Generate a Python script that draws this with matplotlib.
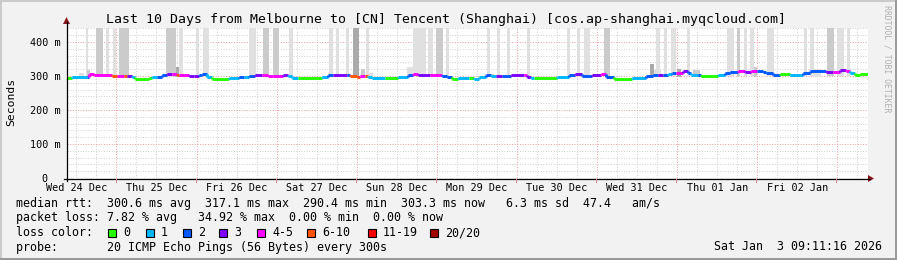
import matplotlib
matplotlib.use("Agg")
import matplotlib.pyplot as plt
import matplotlib.dates as mdates
from matplotlib.patches import Rectangle, Polygon
from matplotlib.lines import Line2D
from matplotlib.collections import LineCollection
from datetime import datetime, timedelta

# ---------------- data ----------------
title = "Last 10 Days from Melbourne to [CN] Tencent (Shanghai) [cos.ap-shanghai.myqcloud.com]"
end_time = datetime(2026, 1, 3, 9, 11, 16)
start_time = end_time - timedelta(days=10)

# median RTT step segments: start (hours since start), value (ms), lost packets of 20
seg_hours = [0.0, 1.5, 6.0, 6.6, 8.1, 13.5, 15.0, 17.1, 18.0, 19.5,
             20.4, 24.6, 25.5, 27.0, 28.5, 30.0, 31.5, 33.0, 33.6, 36.6,
             38.1, 39.6, 40.5, 42.0, 43.5, 48.6, 51.6, 53.1, 54.6, 56.4,
             58.5, 60.3, 61.8, 64.8, 66.3, 67.5, 69.3, 76.5, 78.3, 79.8,
             84.0, 84.9, 87.0, 87.9, 89.4, 90.3, 91.5, 95.4, 99.3, 102.3,
             103.8, 105.3, 108.9, 112.5, 114.0, 115.5, 117.3, 120.3, 121.8, 123.3,
             125.4, 126.9, 128.4, 130.2, 132.9, 136.8, 137.7, 138.9, 139.8, 146.7,
             150.3, 152.1, 154.2, 157.2, 159.9, 161.4, 163.8, 169.2, 173.4, 175.5,
             177.0, 178.5, 180.0, 181.2, 182.4, 184.5, 186.0, 186.9, 189.0, 189.9,
             195.0, 197.1, 198.6, 201.0, 203.1, 204.9, 206.7, 208.5, 209.4, 211.5,
             213.6, 216.6, 220.5, 222.6, 227.4, 229.5, 231.6, 233.4, 234.6, 236.1,
             237.6]
seg_median_ms = [293, 297, 298, 306, 304, 300, 301, 300, 300, 296,
                 292, 294, 296, 298, 303, 307, 305, 302, 304, 300,
                 299, 302, 305, 298, 292, 295, 298, 296, 300, 303,
                 304, 301, 300, 302, 299, 293, 293, 297, 304, 303,
                 302, 300, 296, 299, 299, 298, 293, 293, 297, 303,
                 306, 304, 304, 301, 296, 292, 293, 293, 292, 297,
                 303, 300, 299, 301, 303, 304, 297, 293, 293, 297,
                 304, 305, 301, 304, 305, 298, 292, 295, 301, 303,
                 302, 303, 306, 310, 310, 315, 308, 304, 302, 301,
                 302, 308, 313, 315, 313, 315, 315, 312, 308, 304,
                 305, 304, 309, 315, 313, 312, 318, 316, 308, 302,
                 305]
seg_loss = [0, 1, 2, 4, 4, 7, 4, 7, 3, 1,
            0, 0, 1, 2, 2, 3, 4, 7, 4, 3,
            3, 2, 2, 1, 0, 1, 2, 1, 2, 3,
            4, 4, 4, 3, 1, 1, 0, 1, 2, 3,
            2, 7, 7, 4, 7, 1, 1, 0, 1, 2,
            4, 3, 4, 2, 2, 0, 1, 0, 1, 1,
            2, 1, 3, 2, 3, 4, 3, 1, 0, 1,
            2, 3, 2, 3, 4, 2, 0, 1, 2, 2,
            3, 2, 1, 2, 4, 3, 2, 1, 2, 0,
            1, 2, 2, 4, 3, 4, 2, 2, 2, 2,
            0, 1, 2, 2, 3, 4, 3, 4, 1, 0,
            0]

# tall smoke bars (outlier pings): start/end hours, shade level
bar_start_h = [5.7, 8.7, 11.7, 13.8, 15.6, 29.7, 33.6, 38.7, 40.8, 54.6,
               58.8, 61.8, 66.6, 78.6, 80.7, 83.7, 85.8, 89.7, 103.8, 108.3,
               110.7, 113.7, 125.7, 128.7, 131.7, 137.7, 149.7, 152.7, 154.8, 160.8,
               176.4, 178.8, 180.9, 185.7, 197.7, 200.7, 202.8, 204.6, 209.7, 220.8,
               222.6, 227.7, 230.7, 233.7]
bar_end_h = [6.3, 10.8, 12.6, 14.7, 18.6, 32.7, 34.8, 39.6, 42.6, 56.7,
             60.6, 63.6, 67.8, 79.8, 81.6, 84.6, 87.6, 90.6, 107.7, 109.8,
             112.8, 114.6, 126.6, 129.6, 132.6, 138.6, 150.6, 153.6, 156.6, 162.6,
             177.6, 179.7, 182.4, 186.6, 199.8, 201.6, 203.7, 205.8, 211.8, 221.7,
             223.8, 229.8, 232.8, 234.6]
bar_shade = [1, 2, 1, 1, 2, 2, 1, 1, 1, 1,
             2, 2, 1, 1, 1, 1, 3, 1, 1, 1,
             2, 1, 1, 1, 1, 1, 1, 1, 1, 2,
             1, 1, 1, 1, 1, 2, 1, 1, 1, 1,
             1, 2, 1, 1]

# small smoke humps near the median
peak_start_h = [3.6, 6.0, 31.8, 32.7, 38.7, 88.2, 90.6, 102.0, 124.8, 174.6,
                175.8, 182.7, 187.5, 205.8, 223.8]
peak_end_h = [5.1, 6.9, 32.7, 33.6, 39.6, 89.4, 91.8, 103.8, 127.8, 175.8,
              177.9, 183.9, 189.6, 206.7, 225.9]
peak_top_ms = [308, 318, 318, 327, 310, 322, 308, 326, 307, 335,
               318, 322, 319, 327, 320]
peak_shade = [1, 2, 2, 3, 1, 2, 1, 1, 1, 3,
              1, 3, 2, 2, 1]

y_ticks = [0, 100, 200, 300, 400]
y_tick_labels = ["0  ", "100 m", "200 m", "300 m", "400 m"]

stats_rtt = "median rtt:  300.6 ms avg  317.1 ms max  290.4 ms min  303.3 ms now   6.3 ms sd  47.4   am/s"
stats_loss = "packet loss: 7.82 % avg   34.92 % max  0.00 % min  0.00 % now"
loss_labels = ["0", "1", "2", "3", "4-5", "6-10", "11-19", "20/20"]
loss_colors = ["#26ff00", "#00b8ff", "#0059ff", "#7e00ff", "#ff00ff", "#ff5500", "#ff0000", "#a10000"]
probe_text = "probe:       20 ICMP Echo Pings (56 Bytes) every 300s"
stamp_text = "Sat Jan  3 09:11:16 2026"

# ---------------- figure ----------------
W, H = 897, 260
MONO = "DejaVu Sans Mono"


def fx(x):
    return x / W


def fy(y):
    return 1 - y / H


def loss_color(n):
    if n <= 3:
        return loss_colors[n]
    if n <= 5:
        return loss_colors[4]
    if n <= 10:
        return loss_colors[5]
    if n <= 19:
        return loss_colors[6]
    return loss_colors[7]


shade_colors = {1: "#e0e0e0", 2: "#cbcbcb", 3: "#aaaaaa"}

fig = plt.figure(figsize=(W / 100, H / 100), dpi=100)
fig.patch.set_facecolor("#f2f2f2")

# 3D-ish frame
fig.add_artist(Rectangle((0, fy(2)), 1, 2 / H, transform=fig.transFigure, color="#cbcbcb", lw=0))
fig.add_artist(Rectangle((0, 0), 2 / W, 1, transform=fig.transFigure, color="#cbcbcb", lw=0))
fig.add_artist(Rectangle((0, 0), 1, 2 / H, transform=fig.transFigure, color="#9a9a9a", lw=0))
fig.add_artist(Rectangle((fx(W - 2), 0), 2 / W, 1, transform=fig.transFigure, color="#9a9a9a", lw=0))

ax = fig.add_axes([fx(67), fy(178), 801 / W, 150 / H])
ax.set_facecolor("white")
for s in ax.spines.values():
    s.set_visible(False)

t0 = mdates.date2num(start_time)
t_end = mdates.date2num(end_time)
ymax = 441.2
ax.set_xlim(t0, t_end)
ax.set_ylim(0, ymax)

# grid
grid_ls = (0, (1, 1.6))
for v in range(0, 441, 20):
    if v % 100 == 0:
        continue
    ax.axhline(v, color="#d2d2d2", lw=0.72, ls=grid_ls, zorder=0.5)
day0 = datetime(2025, 12, 24)
for k in range(0, 45):
    t = mdates.date2num(day0 + timedelta(hours=6 * k))
    if t <= t0 or t >= t_end:
        continue
    if k % 4 == 0:
        ax.axvline(t, color="#eaa0a0", lw=0.72, ls=grid_ls, zorder=0.6)
    else:
        ax.axvline(t, color="#d2d2d2", lw=0.72, ls=grid_ls, zorder=0.5)
for v in (100, 200, 300, 400):
    ax.axhline(v, color="#eaa0a0", lw=0.72, ls=grid_ls, zorder=0.6)

# tall smoke bars
for a, b, s in zip(bar_start_h, bar_end_h, bar_shade):
    ax.bar(t0 + a / 24, ymax + 10 - 299, bottom=299, width=(b - a) / 24, align="edge",
           color=shade_colors[s], lw=0, zorder=1)
# smoke humps
for a, b, top, s in zip(peak_start_h, peak_end_h, peak_top_ms, peak_shade):
    ax.bar(t0 + a / 24, top - 296, bottom=296, width=(b - a) / 24, align="edge",
           color=shade_colors[s], lw=0, zorder=1.2)

# median line, coloured by loss
segs, cols = [], []
n = len(seg_hours)
for i in range(n):
    ta = t0 + seg_hours[i] / 24
    tb = t0 + (seg_hours[i + 1] / 24 if i + 1 < n else 10.0)
    segs.append([(ta, seg_median_ms[i]), (tb, seg_median_ms[i])])
    cols.append(loss_color(seg_loss[i]))
    if i + 1 < n:
        segs.append([(tb, seg_median_ms[i]), (tb, seg_median_ms[i + 1])])
        cols.append(loss_color(seg_loss[i + 1]))
ax.add_collection(LineCollection(segs, colors=cols, linewidths=2.1, capstyle="butt", zorder=3))

# ticks
ax.set_yticks(y_ticks)
ax.set_yticklabels(y_tick_labels, family=MONO, fontsize=7.3)
ax.tick_params(axis="y", length=0, pad=4.6)
noons = [mdates.date2num(day0 + timedelta(days=d, hours=12)) for d in range(10)]
ax.set_xticks(noons)
ax.set_xticklabels([(day0 + timedelta(days=d)).strftime("%a %d %b") for d in range(10)],
                   family=MONO, fontsize=7.3)
ax.tick_params(axis="x", length=0, pad=3.8)

# axis lines and arrows
fig.add_artist(Line2D([fx(64), fx(870)], [fy(178.5), fy(178.5)], transform=fig.transFigure,
                      color="black", lw=0.9))
fig.add_artist(Line2D([fx(66.5), fx(66.5)], [fy(181), fy(22)], transform=fig.transFigure,
                      color="black", lw=0.9))
fig.add_artist(Polygon([(fx(868), fy(175)), (fx(868), fy(182)), (fx(874), fy(178.5))],
                       closed=True, transform=fig.transFigure, color="#8b1a1a", lw=0))
fig.add_artist(Polygon([(fx(63), fy(24)), (fx(70), fy(24)), (fx(66.5), fy(17))],
                       closed=True, transform=fig.transFigure, color="#8b1a1a", lw=0))
for d in range(1, 11):
    t = day0 + timedelta(days=d)
    xp = 67 + (mdates.date2num(t) - t0) * 80
    if xp < 867:
        fig.add_artist(Line2D([fx(xp), fx(xp)], [fy(178.5), fy(181.5)], transform=fig.transFigure,
                              color="#e08080", lw=0.72))

# texts
fig.text(fx(446), fy(19.5), title, family=MONO, fontsize=9.5, ha="center", va="center")
fig.text(fx(11), fy(102), "Seconds", family=MONO, fontsize=8.2, rotation=90, ha="center", va="center")
fig.text(fx(887), fy(59), "RRDTOOL / TOBI OETIKER", family=MONO, fontsize=5.9, rotation=270,
         ha="center", va="center", color="#b0b0b0")

fig.text(fx(16), fy(204), stats_rtt, family=MONO, fontsize=8.4, ha="left", va="center")
fig.text(fx(16), fy(218), stats_loss, family=MONO, fontsize=8.4, ha="left", va="center")
fig.text(fx(16), fy(232.5), "loss color:", family=MONO, fontsize=8.4, ha="left", va="center")
box_x = [108, 146, 183, 219, 257, 307, 368, 430]
for bx, lab, c in zip(box_x, loss_labels, loss_colors):
    fig.add_artist(Rectangle((fx(bx), fy(237)), 8 / W, 8 / H, transform=fig.transFigure,
                             facecolor=c, edgecolor="black", lw=0.8))
    fig.text(fx(bx + 15), fy(232.5), lab, family=MONO, fontsize=8.4, ha="left", va="center")
fig.text(fx(16), fy(247), probe_text, family=MONO, fontsize=8.4, ha="left", va="center")
fig.text(fx(882), fy(247), stamp_text, family=MONO, fontsize=8.4, ha="right", va="center")

fig.savefig("out.png", dpi=100, facecolor=fig.get_facecolor())
